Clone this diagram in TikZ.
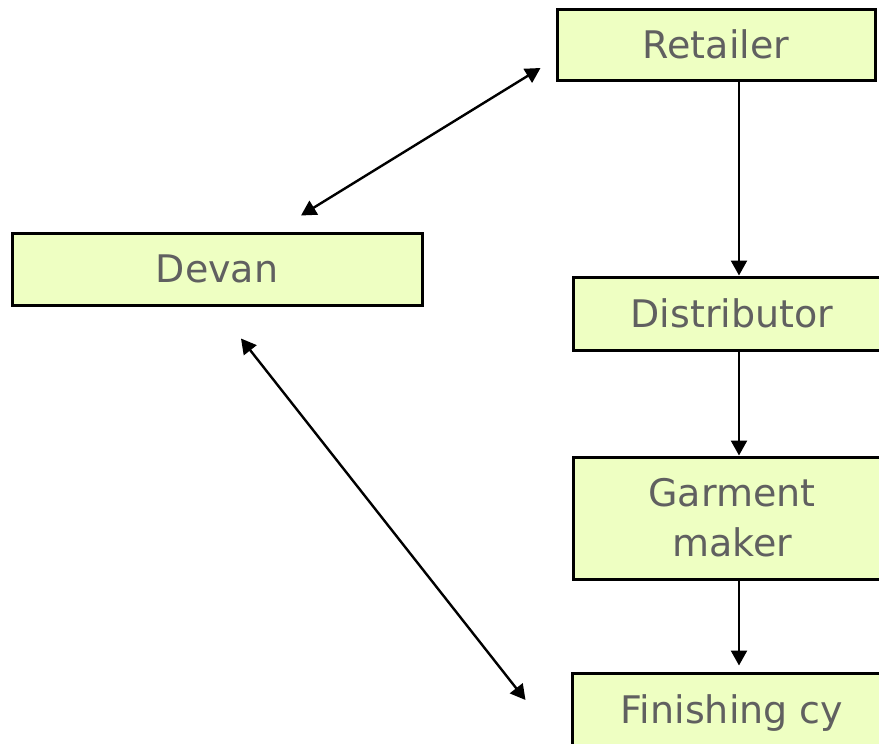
\documentclass[tikz,border=0pt]{standalone}
\usepackage{fontspec}
\setmainfont{DejaVu Sans}
\usepackage{xcolor}
\usetikzlibrary{positioning,calc,arrows.meta}
\definecolor{boxfill}{RGB}{238,255,194}
\definecolor{boxtext}{RGB}{96,96,96}

\begin{document}
\begin{tikzpicture}[x=1pt, y=-1pt,
    party/.style={draw=black, line width=3pt, fill=boxfill, text=boxtext,
        font=\fontsize{38}{50}\selectfont, inner sep=0pt, align=center},
    flow/.style={line width=2.4pt, -{Triangle[length=15pt,width=16pt]}},
    link/.style={line width=2.4pt, {Triangle[length=15pt,width=16pt]}-{Triangle[length=15pt,width=16pt]}}]
    \useasboundingbox (0,0) rectangle (879,744);
    \clip (0,0) rectangle (879,744);

    % Boxes
    \node [party, minimum width=318pt, minimum height=71pt] (retailer) at (716,44.5) {Retailer};
    \node [party, minimum width=318pt, minimum height=73pt] (distributor) at (732,313.5) {Distributor};
    \node [party, minimum width=318pt, minimum height=122pt] (garment) at (732,518) {Garment\\maker};
    \node [party, minimum width=320pt, minimum height=72pt, text depth=0pt] (finishing) at (732,709) {Finishing cy};
    \node [party, minimum width=410pt, minimum height=72pt] (devan) at (217,269) {Devan};

    % Chain down the right side
    \coordinate (spine) at (739,0);
    \draw [flow] (retailer.south -| spine) -- (distributor.north -| spine);
    \draw [flow] (distributor.south -| spine) -- (garment.north -| spine);
    \draw [flow, shorten >=6pt] (garment.south -| spine) -- (finishing.north -| spine);

    % Devan talks both ways
    \draw [link] ([xshift=84pt, yshift=16pt]devan.north) -- ([xshift=-15pt, yshift=-23.5pt]retailer.west);
    \draw [link] ([xshift=24pt, yshift=-32pt]devan.south) -- ([xshift=-45pt, yshift=9pt]finishing.west);
\end{tikzpicture}
\end{document}
